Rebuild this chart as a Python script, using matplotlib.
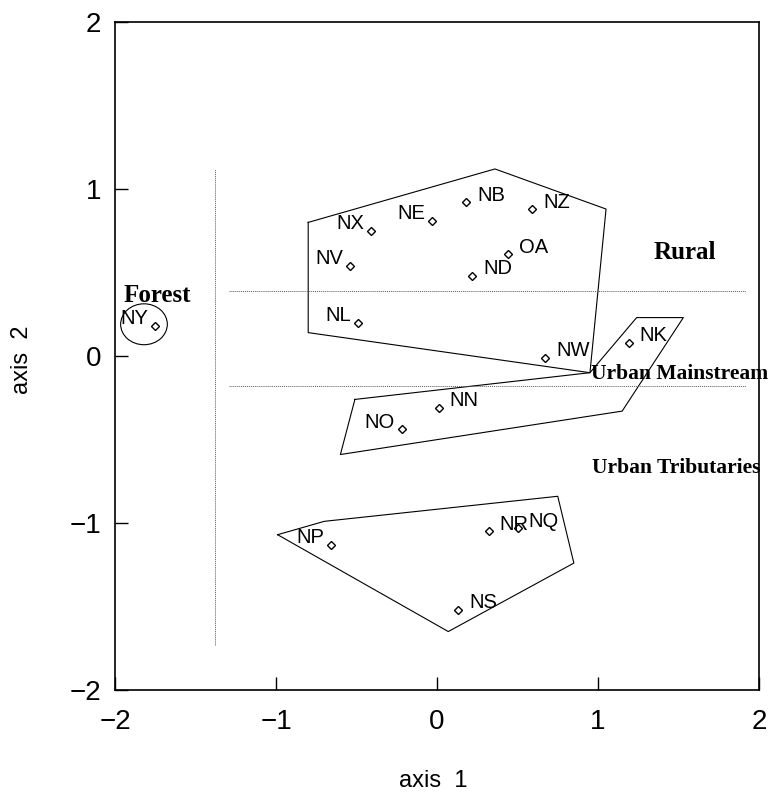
import numpy as np
import matplotlib.pyplot as plt
from matplotlib.patches import Ellipse

# site scores (axis 1, axis 2)
sites = ["NY", "NL", "NV", "NX", "NE", "NB", "NZ", "OA", "ND", "NW", "NK",
         "NN", "NO", "NP", "NR", "NQ", "NS"]
axis1 = [-1.75, -0.49, -0.54, -0.41, -0.03, 0.18, 0.59, 0.44, 0.22, 0.67, 1.19,
         0.01, -0.22, -0.66, 0.32, 0.50, 0.13]
axis2 = [0.18, 0.20, 0.54, 0.75, 0.81, 0.92, 0.88, 0.61, 0.48, -0.01, 0.08,
         -0.31, -0.44, -1.13, -1.05, -1.03, -1.52]
label_side = ["L", "L", "L", "L", "L", "R", "R", "R", "R", "R", "R",
              "R", "L", "L", "R", "R", "R"]

# hand drawn group outlines
rural_x = [-0.80, 0.36, 1.05, 0.95, -0.80, -0.80]
rural_y = [0.80, 1.12, 0.88, -0.10, 0.14, 0.80]
urban_main_x = [-0.51, 0.95, 1.24, 1.53, 1.15, -0.60, -0.51]
urban_main_y = [-0.26, -0.10, 0.23, 0.23, -0.33, -0.59, -0.26]
urban_trib_x = [-0.99, -0.70, 0.75, 0.85, 0.07, -0.99]
urban_trib_y = [-1.07, -0.99, -0.84, -1.24, -1.65, -1.07]

# dotted separators
vline_x = -1.38
vline_y = [-1.73, 1.12]
hline_y = [0.39, -0.18]
hline_x = [-1.29, 1.92]

group_names = ["Forest", "Rural", "Urban Mainstream", "Urban Tributaries"]
group_pos = [(-1.74, 0.365), (1.54, 0.62), (0.955, -0.105), (0.96, -0.67)]

fig = plt.figure(figsize=(7.7, 7.96), dpi=100)
ax = fig.add_axes([115 / 770, 106 / 796, 644 / 770, 668 / 796])

sans = "Liberation Sans"
serif = "Liberation Serif"

ax.plot(axis1, axis2, linestyle="none", marker="D", markersize=4,
        markerfacecolor="white", markeredgecolor="black", markeredgewidth=1.0)

for name, x, y, side in zip(sites, axis1, axis2, label_side):
    if side == "R":
        ax.annotate(name, (x, y), xytext=(8, 5), textcoords="offset points",
                    ha="left", va="center", fontsize=14.5, family=sans)
    else:
        ax.annotate(name, (x, y), xytext=(-5, 5), textcoords="offset points",
                    ha="right", va="center", fontsize=14.5, family=sans)

for xs, ys in [(rural_x, rural_y), (urban_main_x, urban_main_y), (urban_trib_x, urban_trib_y)]:
    ax.plot(xs, ys, color="black", linewidth=0.8)

ax.add_patch(Ellipse((-1.82, 0.19), 0.29, 0.245, fill=False, edgecolor="black", linewidth=0.8))

ax.plot([vline_x, vline_x], vline_y, color="0.35", linestyle=(0, (1, 1)), linewidth=0.7)
for hy in hline_y:
    ax.plot(hline_x, [hy, hy], color="0.35", linestyle=(0, (1, 1)), linewidth=0.7)

for name, (gx, gy) in zip(group_names, group_pos):
    if name.startswith("Urban"):
        ax.text(gx, gy, name, ha="left", va="center", fontsize=15.5,
                fontweight="bold", family=serif, clip_on=False)
    else:
        ax.text(gx, gy, name, ha="center", va="center", fontsize=18,
                fontweight="bold", family=serif)

ax.set_xlim(-2, 2)
ax.set_ylim(-2, 2)
ax.set_xticks([-2, -1, 0, 1, 2])
ax.set_yticks([-2, -1, 0, 1, 2])
ax.tick_params(direction="in", length=9.5, width=1, labelsize=20)
ax.tick_params(axis="x", pad=14)
ax.tick_params(axis="y", pad=10)
for lab in ax.get_xticklabels() + ax.get_yticklabels():
    lab.set_family(sans)
for sp in ax.spines.values():
    sp.set_linewidth(1.2)

ax.set_xlabel("axis  1", fontsize=17, family=sans)
ax.xaxis.set_label_coords(0.494, -0.12)
ax.set_ylabel("axis  2", fontsize=17, family=sans)
ax.yaxis.set_label_coords(-0.127, 0.495)

fig.savefig("out.png", dpi=100)
